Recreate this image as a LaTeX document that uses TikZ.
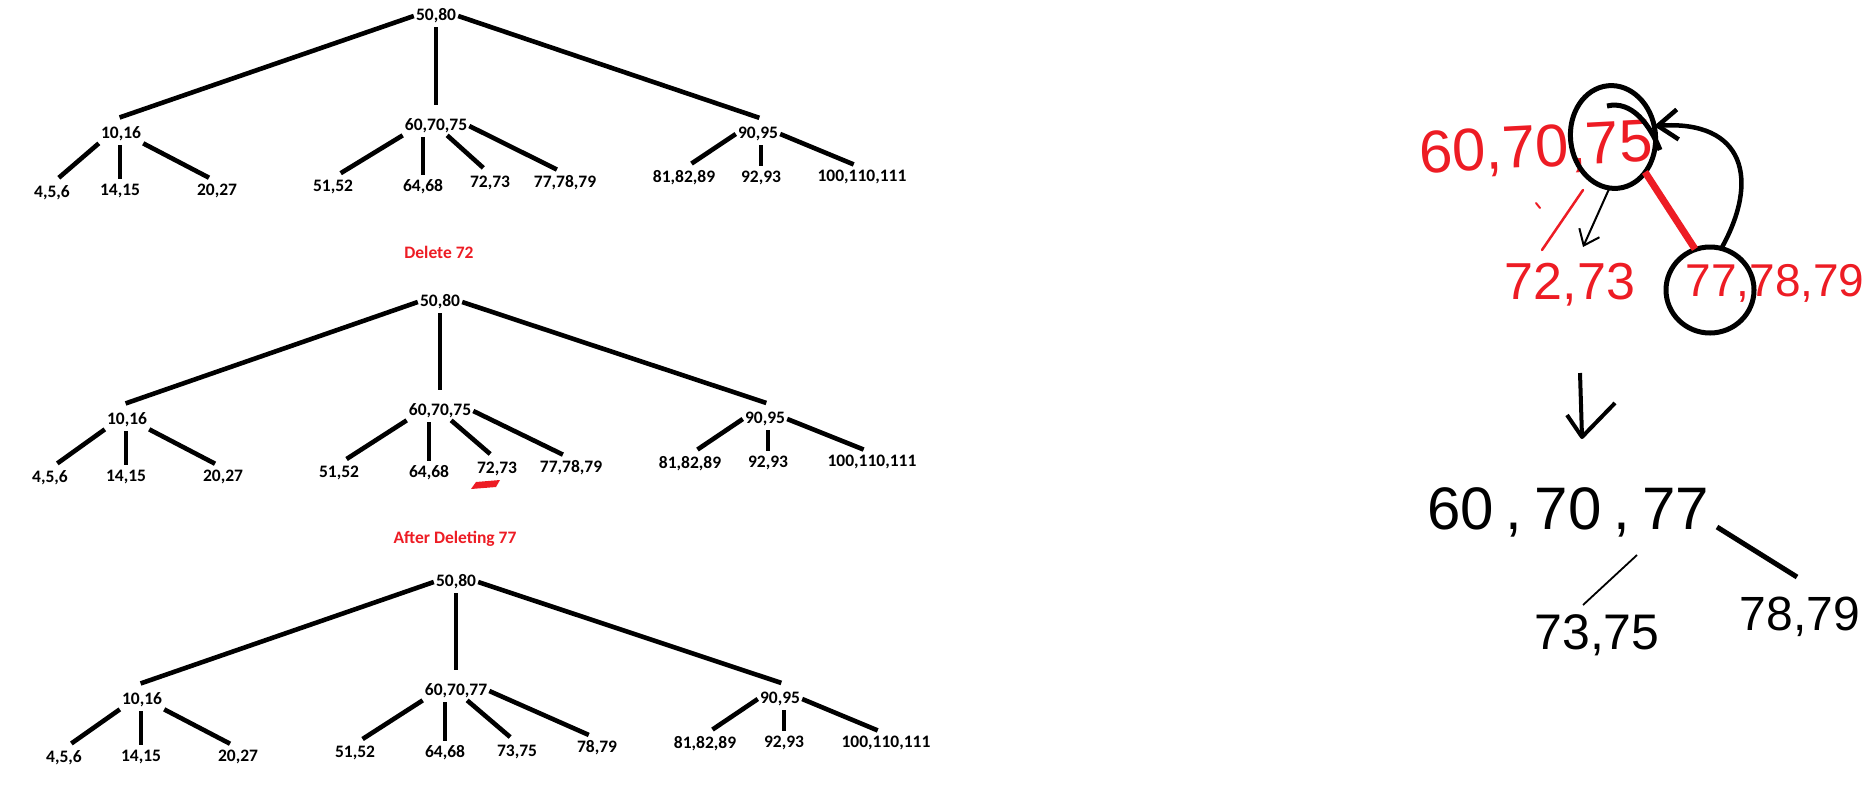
\documentclass[tikz,border=0pt]{standalone}
\usepackage{fontspec}
\setmainfont{Carlito}
\newfontfamily\hand{Liberation Sans}
\usetikzlibrary{arrows.meta,calc}
\definecolor{pred}{HTML}{ED1C24}
\begin{document}
\begin{tikzpicture}[x=1pt,y=-1pt,
  lbl/.style={font=\fontsize{17.5}{20}\selectfont\bfseries, inner sep=2pt},
  ttl/.style={lbl, text=pred},
  tedge/.style={line width=4.6pt, shorten >=9pt},
  redge/.style={line width=4.6pt, shorten >=22pt},
  vedge/.style={line width=4.6pt, shorten >=3pt, shorten <=2pt},
  hw/.style={font=\hand\fontsize{#1}{#1}\selectfont, inner sep=0pt},
  ring/.style={draw, line width=5pt},
]
\useasboundingbox (0,0) rectangle (1867,796);

% ---------------- Tree 1 ----------------
\node[lbl] (r1) at (436,16) {50,80};
\node[lbl] (a1) at (121,134) {10,16};
\node[lbl] (b1) at (436,126) {60,70,75};
\node[lbl] (c1) at (758,134) {90,95};
\node[lbl] (a1x) at (52,193) {4,5,6};
\node[lbl] (a1y) at (120,191) {14,15};
\node[lbl] (a1z) at (217,191) {20,27};
\node[lbl] (b1w) at (333,187) {51,52};
\node[lbl] (b1x) at (423,187) {64,68};
\node[lbl] (b1y) at (490,183) {72,73};
\node[lbl] (b1z) at (565,183) {77,78,79};
\node[lbl] (c1x) at (684,178) {81,82,89};
\node[lbl] (c1y) at (761,178) {92,93};
\node[lbl] (c1z) at (862,177) {100,110,111};
\draw[redge] (r1.west) -- (a1.north west);
\draw[vedge, shorten >=12pt] (r1.south) -- (b1.north);
\draw[redge] (r1.east) -- (c1.north east);
\draw[tedge] (a1.south west) -- (a1x.north);
\draw[vedge] (a1.south -| a1y.north) -- (a1y.north);
\draw[tedge] (a1.south east) -- (a1z.north);
\draw[tedge] (b1.south west) -- (b1w.north);
\draw[vedge] (b1.south -| b1x.north) -- (b1x.north);
\draw[tedge] (b1.-40) -- (b1y.north);
\draw[tedge] (b1.east) -- (b1z.north);
\draw[tedge] (c1.west) -- (c1x.north);
\draw[vedge] (c1.south -| c1y.north) -- (c1y.north);
\draw[tedge] (c1.east) -- (c1z.north);

% ---------------- Tree 2 ----------------
\node[ttl] (t2) at (439,252) {Delete 72};
\node[lbl] (r2) at (440,302) {50,80};
\node[lbl] (a2) at (127,420) {10,16};
\node[lbl] (b2) at (440,411) {60,70,75};
\node[lbl] (c2) at (765,419) {90,95};
\node[lbl] (a2x) at (50,478) {4,5,6};
\node[lbl] (a2y) at (126,477) {14,15};
\node[lbl] (a2z) at (223,477) {20,27};
\node[lbl] (b2w) at (339,473) {51,52};
\node[lbl] (b2x) at (429,473) {64,68};
\node[lbl] (b2y) at (497,469) {72,73};
\node[lbl] (b2z) at (571,468) {77,78,79};
\node[lbl] (c2x) at (690,464) {81,82,89};
\node[lbl] (c2y) at (768,463) {92,93};
\node[lbl] (c2z) at (872,462) {100,110,111};
\draw[redge] (r2.west) -- (a2.north west);
\draw[vedge, shorten >=12pt] (r2.south) -- (b2.north);
\draw[redge] (r2.east) -- (c2.north east);
\draw[tedge] (a2.south west) -- (a2x.north);
\draw[vedge] (a2.south -| a2y.north) -- (a2y.north);
\draw[tedge] (a2.south east) -- (a2z.north);
\draw[tedge] (b2.south west) -- (b2w.north);
\draw[vedge] (b2.south -| b2x.north) -- (b2x.north);
\draw[tedge] (b2.-40) -- (b2y.north);
\draw[tedge] (b2.east) -- (b2z.north);
\draw[tedge] (c2.west) -- (c2x.north);
\draw[vedge] (c2.south -| c2y.north) -- (c2y.north);
\draw[tedge] (c2.east) -- (c2z.north);
\fill[pred] (471,489) -- (476,482) -- (500,480) -- (496,487) -- cycle;

% ---------------- Tree 3 ----------------
\node[ttl] (t3) at (455,539) {After Deleting 77};
\node[lbl] (r3) at (456,582) {50,80};
\node[lbl] (a3) at (142,700) {10,16};
\node[lbl] (b3) at (456,691) {60,70,77};
\node[lbl] (c3) at (780,699) {90,95};
\node[lbl] (a3x) at (64,758) {4,5,6};
\node[lbl] (a3y) at (141,757) {14,15};
\node[lbl] (a3z) at (238,757) {20,27};
\node[lbl] (b3w) at (355,753) {51,52};
\node[lbl] (b3x) at (445,753) {64,68};
\node[lbl] (b3y) at (517,752) {73,75};
\node[lbl] (b3z) at (597,748) {78,79};
\node[lbl] (c3x) at (705,744) {81,82,89};
\node[lbl] (c3y) at (784,743) {92,93};
\node[lbl] (c3z) at (886,743) {100,110,111};
\draw[redge] (r3.west) -- (a3.north west);
\draw[vedge, shorten >=12pt] (r3.south) -- (b3.north);
\draw[redge] (r3.east) -- (c3.north east);
\draw[tedge] (a3.south west) -- (a3x.north);
\draw[vedge] (a3.south -| a3y.north) -- (a3y.north);
\draw[tedge] (a3.south east) -- (a3z.north);
\draw[tedge] (b3.south west) -- (b3w.north);
\draw[vedge] (b3.south -| b3x.north) -- (b3x.north);
\draw[tedge] (b3.-40) -- (b3y.north);
\draw[tedge] (b3.east) -- (b3z.north);
\draw[tedge] (c3.west) -- (c3x.north);
\draw[vedge] (c3.south -| c3y.north) -- (c3y.north);
\draw[tedge] (c3.east) -- (c3z.north);

% ---------------- Handwritten sketch ----------------
\node[hw=60, text=pred, rotate=3] (h1) at (1536,150) {60,70,75};
\node[hw=52, text=pred] (h2) at (1570,285) {72,73};
\node[hw=46, text=pred] (h3) at (1775,283) {77,78,79};
% circles drawn round 75 and 77
\coordinate (c75) at (1613,137);
\coordinate (c77) at (1710,290);
\draw[ring, rotate around={6:(c75)}] (c75) ellipse [x radius=42.5pt, y radius=51.5pt];
\draw[ring] (c77) ellipse [x radius=44pt, y radius=43pt];
\draw[line width=5pt] (1607,106) .. controls (1632,100) and (1650,125) .. (1660,150);
% connectors of the sketch
\coordinate (c75se) at (1645,172);
\coordinate (c77nw) at (1695,249);
\coordinate (c77ne) at (1721,249);
\coordinate (c75e) at (1654,126);
\coordinate (c75s) at (1609,189);
\coordinate (tip72) at (1583,247);
\draw[pred, line width=7pt] (c75se) -- (c77nw);
\draw[line width=4.5pt, -{Straight Barb[length=20pt,width=30pt]}]
  (c77ne) .. controls (1760,180) and (1745,120) .. (c75e);
\draw[line width=2pt, -{Straight Barb[length=14pt,width=22pt]}] (c75s) -- (tip72);
\draw[pred, line width=2.5pt, line cap=round] (1583,190) -- (1542,250);
\draw[pred, line width=2pt, line cap=round] (1536,203) -- (1540,208);
% transformation arrow
\coordinate (dA) at (1580,373);
\coordinate (dB) at (1582,437);
\draw[line width=4pt] (dA) -- (dB);
\draw[line width=4pt, line join=round] (1567,415) -- (dB) -- (1615,403);
\node[hw=60] (h4) at (1568,512) {60\hspace{12pt},\hspace{12pt}70\hspace{12pt},\hspace{12pt}77};
\node[hw=50] (h5) at (1597,635) {73,75};
\node[hw=48] (h6) at (1800,617) {78,79};
\coordinate (e1a) at (1637,555);
\coordinate (e1b) at (1583,605);
\coordinate (e2a) at (1717,527);
\coordinate (e2b) at (1797,577);
\draw[line width=1.8pt] (e1a) -- (e1b);
\draw[line width=5pt] (e2a) -- (e2b);
\end{tikzpicture}
\end{document}
